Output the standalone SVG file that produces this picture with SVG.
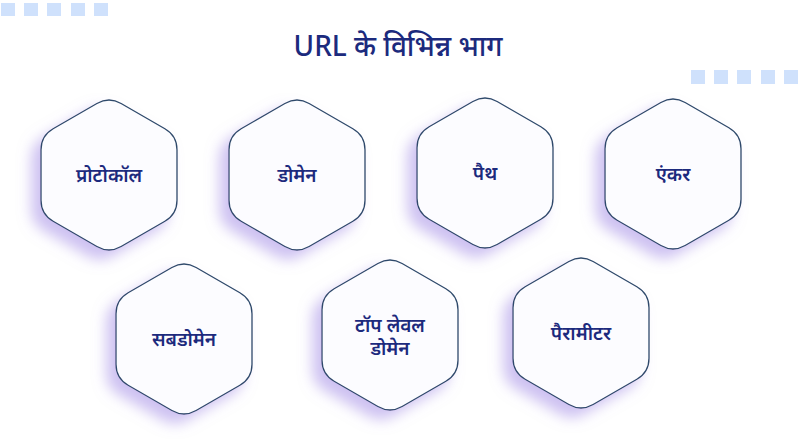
<svg xmlns="http://www.w3.org/2000/svg" width="800" height="445" viewBox="0 0 800 445">
  <style>
    .hex { fill: #fcfcff; stroke: #2f4a6b; stroke-width: 1.3; }
    .lbl { font-family: "Noto Sans Devanagari", "Noto Sans", "Lohit Devanagari", sans-serif; font-size: 19px; font-weight: 600; fill: #1c2a7d; text-anchor: middle; }
    .title { font-family: "Noto Sans Devanagari", "Noto Sans", "Lohit Devanagari", sans-serif; font-size: 28px; font-weight: 500; fill: #1c2a7d; text-anchor: middle; }
    .sq { fill: #cfe1fc; }
  </style>
  <defs>
    <filter id="sh" x="-40%" y="-40%" width="180%" height="180%">
      <feGaussianBlur in="SourceAlpha" stdDeviation="7"/>
      <feOffset dx="-9" dy="9" result="b"/>
      <feFlood flood-color="#a58fe6" flood-opacity="0.55"/>
      <feComposite in2="b" operator="in"/>
      <feMerge><feMergeNode/><feMergeNode in="SourceGraphic"/></feMerge>
    </filter>
    <path id="hexp" d="M12.12,-71.5 L55.88,-46.25 Q68,-39.25 68,-25.25 L68,25.25 Q68,39.25 55.88,46.25 L12.12,71.5 Q0,78.5 -12.12,71.5 L-55.88,46.25 Q-68,39.25 -68,25.25 L-68,-25.25 Q-68,-39.25 -55.88,-46.25 L-12.12,-71.5 Q0,-78.5 12.12,-71.5 Z"/>
  </defs>
  <rect width="800" height="445" fill="#ffffff"/>
  <g id="decor">
    <rect class="sq" x="1" y="3" width="14" height="13"/>
    <rect class="sq" x="24" y="3" width="14" height="13"/>
    <rect class="sq" x="47" y="3" width="14" height="13"/>
    <rect class="sq" x="71" y="3" width="14" height="13"/>
    <rect class="sq" x="94" y="3" width="14" height="13"/>
    <rect class="sq" x="691" y="70" width="14" height="14"/>
    <rect class="sq" x="714" y="70" width="14" height="14"/>
    <rect class="sq" x="737" y="70" width="14" height="14"/>
    <rect class="sq" x="761" y="70" width="14" height="14"/>
    <rect class="sq" x="784" y="70" width="14" height="14"/>
  </g>
  <text id="title" class="title" x="398" y="56">URL के विभिन्न भाग</text>
  <g id="connectors"/>
  <g id="n1" transform="translate(109,175)">
    <use href="#hexp" class="hex" filter="url(#sh)"/>
    <text class="lbl" x="0" y="7">प्रोटोकॉल</text>
  </g>
  <g id="n2" transform="translate(297,175)">
    <use href="#hexp" class="hex" filter="url(#sh)"/>
    <text class="lbl" x="0" y="7">डोमेन</text>
  </g>
  <g id="n3" transform="translate(485,173)">
    <use href="#hexp" class="hex" filter="url(#sh)"/>
    <text class="lbl" x="0" y="7">पैथ</text>
  </g>
  <g id="n4" transform="translate(673,174)">
    <use href="#hexp" class="hex" filter="url(#sh)"/>
    <text class="lbl" x="0" y="7">एंकर</text>
  </g>
  <g id="n5" transform="translate(184,339)">
    <use href="#hexp" class="hex" filter="url(#sh)"/>
    <text class="lbl" x="0" y="7">सबडोमेन</text>
  </g>
  <g id="n6" transform="translate(390,335)">
    <use href="#hexp" class="hex" filter="url(#sh)"/>
    <text class="lbl" x="0" y="-3">टॉप लेवल</text>
    <text class="lbl" x="0" y="20">डोमेन</text>
  </g>
  <g id="n7" transform="translate(581,333)">
    <use href="#hexp" class="hex" filter="url(#sh)"/>
    <text class="lbl" x="0" y="7">पैरामीटर</text>
  </g>
</svg>
